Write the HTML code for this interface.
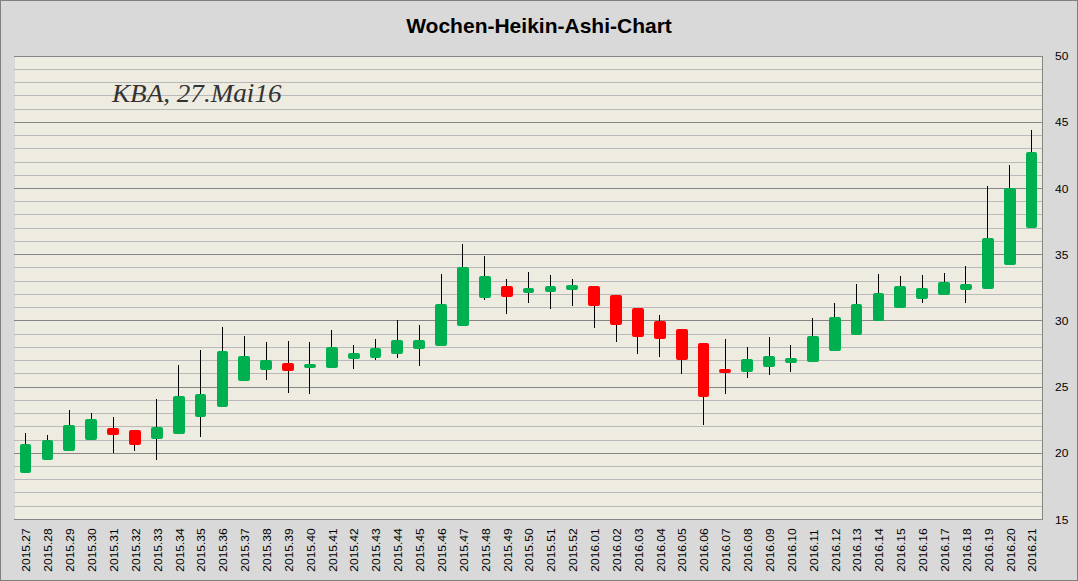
<!DOCTYPE html>
<html><head><meta charset="utf-8"><style>
html,body{margin:0;padding:0;}
body{width:1078px;height:581px;overflow:hidden;background:#D9D9D9;position:relative;font-family:"Liberation Sans",sans-serif;}
.frame{position:absolute;left:0;top:0;width:1076px;height:579px;border:1px solid #808080;}
svg{position:absolute;left:0;top:0;}
.title{position:absolute;left:0;width:1078px;top:14px;text-align:center;font:bold 21px "Liberation Sans",sans-serif;color:#000;line-height:24px;}
.note{position:absolute;left:112px;top:80px;font:italic 25px "Liberation Serif",serif;color:#333;transform-origin:0 0;transform:scaleX(1.085);white-space:nowrap;line-height:28px;}
.lc{display:inline-block;transform:scaleY(1.12);transform-origin:50% 22px;}
.yl{position:absolute;left:1055px;font-size:12px;line-height:14px;color:#000;transform:scaleY(0.89);transform-origin:0 11px;}
.xl{position:absolute;top:543px;width:43.4px;font-size:12px;line-height:14px;height:14px;color:#000;transform:rotate(-90deg) scaleY(0.92);transform-origin:50% 50%;white-space:nowrap;}
</style></head><body>
<div class="frame"></div>
<svg width="1078" height="581" viewBox="0 0 1078 581">
<rect x="15" y="56" width="1027" height="463" fill="#EEECE1"/>
<rect x="14" y="519" width="1028" height="1" fill="#868686"/>
<rect x="14" y="506" width="1028" height="1" fill="#B9B9B9"/>
<rect x="14" y="492" width="1028" height="1" fill="#B9B9B9"/>
<rect x="14" y="479" width="1028" height="1" fill="#B9B9B9"/>
<rect x="14" y="466" width="1028" height="1" fill="#B9B9B9"/>
<rect x="14" y="453" width="1028" height="1" fill="#868686"/>
<rect x="14" y="440" width="1028" height="1" fill="#B9B9B9"/>
<rect x="14" y="426" width="1028" height="1" fill="#B9B9B9"/>
<rect x="14" y="413" width="1028" height="1" fill="#B9B9B9"/>
<rect x="14" y="400" width="1028" height="1" fill="#B9B9B9"/>
<rect x="14" y="387" width="1028" height="1" fill="#868686"/>
<rect x="14" y="373" width="1028" height="1" fill="#B9B9B9"/>
<rect x="14" y="360" width="1028" height="1" fill="#B9B9B9"/>
<rect x="14" y="347" width="1028" height="1" fill="#B9B9B9"/>
<rect x="14" y="334" width="1028" height="1" fill="#B9B9B9"/>
<rect x="14" y="320" width="1028" height="1" fill="#868686"/>
<rect x="14" y="307" width="1028" height="1" fill="#B9B9B9"/>
<rect x="14" y="294" width="1028" height="1" fill="#B9B9B9"/>
<rect x="14" y="281" width="1028" height="1" fill="#B9B9B9"/>
<rect x="14" y="267" width="1028" height="1" fill="#B9B9B9"/>
<rect x="14" y="254" width="1028" height="1" fill="#868686"/>
<rect x="14" y="241" width="1028" height="1" fill="#B9B9B9"/>
<rect x="14" y="228" width="1028" height="1" fill="#B9B9B9"/>
<rect x="14" y="214" width="1028" height="1" fill="#B9B9B9"/>
<rect x="14" y="201" width="1028" height="1" fill="#B9B9B9"/>
<rect x="14" y="188" width="1028" height="1" fill="#868686"/>
<rect x="14" y="175" width="1028" height="1" fill="#B9B9B9"/>
<rect x="14" y="162" width="1028" height="1" fill="#B9B9B9"/>
<rect x="14" y="148" width="1028" height="1" fill="#B9B9B9"/>
<rect x="14" y="135" width="1028" height="1" fill="#B9B9B9"/>
<rect x="14" y="122" width="1028" height="1" fill="#868686"/>
<rect x="14" y="109" width="1028" height="1" fill="#B9B9B9"/>
<rect x="14" y="95" width="1028" height="1" fill="#B9B9B9"/>
<rect x="14" y="82" width="1028" height="1" fill="#B9B9B9"/>
<rect x="14" y="69" width="1028" height="1" fill="#B9B9B9"/>
<rect x="14" y="56" width="1028" height="1" fill="#868686"/>
<rect x="1042" y="56" width="1" height="464" fill="#868686"/>
<rect x="25" y="433.0" width="1" height="40.0" fill="#000"/>
<rect x="20" y="444.0" width="11" height="29.0" rx="2" fill="#00B050"/>
<rect x="47" y="435.0" width="1" height="25.0" fill="#000"/>
<rect x="42" y="440.0" width="11" height="20.0" rx="2" fill="#00B050"/>
<rect x="69" y="410.0" width="1" height="41.0" fill="#000"/>
<rect x="63" y="425.0" width="12" height="26.0" rx="2" fill="#00B050"/>
<rect x="91" y="413.0" width="1" height="27.0" fill="#000"/>
<rect x="85" y="419.0" width="12" height="21.0" rx="2" fill="#00B050"/>
<rect x="113" y="417.0" width="1" height="36.0" fill="#000"/>
<rect x="107" y="428.0" width="12" height="7.0" rx="2" fill="#FF0000"/>
<rect x="134" y="430.0" width="1" height="21.0" fill="#000"/>
<rect x="129" y="430.0" width="12" height="15.0" rx="2" fill="#FF0000"/>
<rect x="156" y="399.0" width="1" height="61.0" fill="#000"/>
<rect x="151" y="427.0" width="12" height="12.0" rx="2" fill="#00B050"/>
<rect x="178" y="365.0" width="1" height="69.0" fill="#000"/>
<rect x="173" y="396.0" width="12" height="38.0" rx="2" fill="#00B050"/>
<rect x="200" y="350.0" width="1" height="87.0" fill="#000"/>
<rect x="195" y="394.0" width="11" height="23.0" rx="2" fill="#00B050"/>
<rect x="222" y="327.0" width="1" height="80.0" fill="#000"/>
<rect x="217" y="351.0" width="11" height="56.0" rx="2" fill="#00B050"/>
<rect x="244" y="336.0" width="1" height="45.0" fill="#000"/>
<rect x="238" y="356.0" width="12" height="25.0" rx="2" fill="#00B050"/>
<rect x="266" y="342.0" width="1" height="38.0" fill="#000"/>
<rect x="260" y="360.0" width="12" height="10.0" rx="2" fill="#00B050"/>
<rect x="288" y="341.0" width="1" height="52.0" fill="#000"/>
<rect x="282" y="363.0" width="12" height="8.0" rx="2" fill="#FF0000"/>
<rect x="309" y="342.0" width="1" height="52.0" fill="#000"/>
<rect x="304" y="364.0" width="12" height="4.0" rx="2" fill="#00B050"/>
<rect x="331" y="330.0" width="1" height="38.0" fill="#000"/>
<rect x="326" y="347.0" width="12" height="21.0" rx="2" fill="#00B050"/>
<rect x="353" y="345.0" width="1" height="24.0" fill="#000"/>
<rect x="348" y="353.0" width="12" height="6.0" rx="2" fill="#00B050"/>
<rect x="375" y="339.0" width="1" height="21.0" fill="#000"/>
<rect x="370" y="348.0" width="11" height="10.0" rx="2" fill="#00B050"/>
<rect x="397" y="320.0" width="1" height="38.0" fill="#000"/>
<rect x="391" y="340.0" width="12" height="14.0" rx="2" fill="#00B050"/>
<rect x="419" y="325.0" width="1" height="41.0" fill="#000"/>
<rect x="413" y="340.0" width="12" height="9.0" rx="2" fill="#00B050"/>
<rect x="441" y="274.0" width="1" height="72.0" fill="#000"/>
<rect x="435" y="304.0" width="12" height="42.0" rx="2" fill="#00B050"/>
<rect x="462" y="244.0" width="1" height="82.0" fill="#000"/>
<rect x="457" y="267.0" width="12" height="59.0" rx="2" fill="#00B050"/>
<rect x="484" y="256.0" width="1" height="44.0" fill="#000"/>
<rect x="479" y="276.0" width="12" height="22.0" rx="2" fill="#00B050"/>
<rect x="506" y="279.0" width="1" height="35.0" fill="#000"/>
<rect x="501" y="286.0" width="12" height="11.0" rx="2" fill="#FF0000"/>
<rect x="528" y="272.0" width="1" height="31.0" fill="#000"/>
<rect x="523" y="288.0" width="11" height="5.0" rx="2" fill="#00B050"/>
<rect x="550" y="275.0" width="1" height="34.0" fill="#000"/>
<rect x="545" y="286.0" width="11" height="6.0" rx="2" fill="#00B050"/>
<rect x="572" y="279.0" width="1" height="27.0" fill="#000"/>
<rect x="566" y="285.0" width="12" height="5.0" rx="2" fill="#00B050"/>
<rect x="594" y="286.0" width="1" height="42.0" fill="#000"/>
<rect x="588" y="286.0" width="12" height="20.0" rx="2" fill="#FF0000"/>
<rect x="616" y="295.0" width="1" height="47.0" fill="#000"/>
<rect x="610" y="295.0" width="12" height="30.0" rx="2" fill="#FF0000"/>
<rect x="637" y="308.0" width="1" height="46.0" fill="#000"/>
<rect x="632" y="308.0" width="12" height="29.0" rx="2" fill="#FF0000"/>
<rect x="659" y="315.0" width="1" height="42.0" fill="#000"/>
<rect x="654" y="321.0" width="12" height="18.0" rx="2" fill="#FF0000"/>
<rect x="681" y="329.0" width="1" height="45.0" fill="#000"/>
<rect x="676" y="329.0" width="12" height="31.0" rx="2" fill="#FF0000"/>
<rect x="703" y="343.0" width="1" height="82.0" fill="#000"/>
<rect x="698" y="343.0" width="11" height="54.0" rx="2" fill="#FF0000"/>
<rect x="725" y="339.0" width="1" height="55.0" fill="#000"/>
<rect x="719" y="369.0" width="12" height="4.0" rx="2" fill="#FF0000"/>
<rect x="747" y="347.0" width="1" height="31.0" fill="#000"/>
<rect x="741" y="359.0" width="12" height="13.0" rx="2" fill="#00B050"/>
<rect x="769" y="337.0" width="1" height="38.0" fill="#000"/>
<rect x="763" y="356.0" width="12" height="11.0" rx="2" fill="#00B050"/>
<rect x="790" y="345.0" width="1" height="27.0" fill="#000"/>
<rect x="785" y="358.0" width="12" height="5.0" rx="2" fill="#00B050"/>
<rect x="812" y="318.0" width="1" height="44.0" fill="#000"/>
<rect x="807" y="336.0" width="12" height="26.0" rx="2" fill="#00B050"/>
<rect x="834" y="303.0" width="1" height="48.0" fill="#000"/>
<rect x="829" y="317.0" width="12" height="34.0" rx="2" fill="#00B050"/>
<rect x="856" y="284.0" width="1" height="51.0" fill="#000"/>
<rect x="851" y="304.0" width="11" height="31.0" rx="2" fill="#00B050"/>
<rect x="878" y="274.0" width="1" height="47.0" fill="#000"/>
<rect x="873" y="293.0" width="11" height="28.0" rx="2" fill="#00B050"/>
<rect x="900" y="276.0" width="1" height="32.0" fill="#000"/>
<rect x="894" y="286.0" width="12" height="22.0" rx="2" fill="#00B050"/>
<rect x="922" y="275.0" width="1" height="28.0" fill="#000"/>
<rect x="916" y="288.0" width="12" height="11.0" rx="2" fill="#00B050"/>
<rect x="944" y="273.0" width="1" height="22.0" fill="#000"/>
<rect x="938" y="282.0" width="12" height="13.0" rx="2" fill="#00B050"/>
<rect x="965" y="266.0" width="1" height="37.0" fill="#000"/>
<rect x="960" y="284.0" width="12" height="6.0" rx="2" fill="#00B050"/>
<rect x="987" y="186.0" width="1" height="103.0" fill="#000"/>
<rect x="982" y="238.0" width="12" height="51.0" rx="2" fill="#00B050"/>
<rect x="1009" y="165.0" width="1" height="100.0" fill="#000"/>
<rect x="1004" y="188.0" width="12" height="77.0" rx="2" fill="#00B050"/>
<rect x="1031" y="130.0" width="1" height="98.0" fill="#000"/>
<rect x="1026" y="152.0" width="11" height="76.0" rx="2" fill="#00B050"/>
</svg>
<div class="title">Wochen-Heikin-Ashi-Chart</div>
<div class="note">KBA, 27.M<span class="lc">ai</span>16</div>
<div class="yl" style="top:513px">15</div><div class="yl" style="top:446px">20</div><div class="yl" style="top:380px">25</div><div class="yl" style="top:314px">30</div><div class="yl" style="top:248px">35</div><div class="yl" style="top:182px">40</div><div class="yl" style="top:115px">45</div><div class="yl" style="top:49px">50</div>
<div class="xl" style="left:4.90px">2015.27</div><div class="xl" style="left:26.90px">2015.28</div><div class="xl" style="left:48.90px">2015.29</div><div class="xl" style="left:70.90px">2015.30</div><div class="xl" style="left:92.90px">2015.31</div><div class="xl" style="left:114.90px">2015.32</div><div class="xl" style="left:136.90px">2015.33</div><div class="xl" style="left:158.90px">2015.34</div><div class="xl" style="left:179.90px">2015.35</div><div class="xl" style="left:201.90px">2015.36</div><div class="xl" style="left:223.90px">2015.37</div><div class="xl" style="left:245.90px">2015.38</div><div class="xl" style="left:267.90px">2015.39</div><div class="xl" style="left:289.90px">2015.40</div><div class="xl" style="left:311.90px">2015.41</div><div class="xl" style="left:332.90px">2015.42</div><div class="xl" style="left:354.90px">2015.43</div><div class="xl" style="left:376.90px">2015.44</div><div class="xl" style="left:398.90px">2015.45</div><div class="xl" style="left:420.90px">2015.46</div><div class="xl" style="left:442.90px">2015.47</div><div class="xl" style="left:464.90px">2015.48</div><div class="xl" style="left:486.90px">2015.49</div><div class="xl" style="left:507.90px">2015.50</div><div class="xl" style="left:529.90px">2015.51</div><div class="xl" style="left:551.90px">2015.52</div><div class="xl" style="left:573.90px">2016.01</div><div class="xl" style="left:595.90px">2016.02</div><div class="xl" style="left:617.90px">2016.03</div><div class="xl" style="left:639.90px">2016.04</div><div class="xl" style="left:660.90px">2016.05</div><div class="xl" style="left:682.90px">2016.06</div><div class="xl" style="left:704.90px">2016.07</div><div class="xl" style="left:726.90px">2016.08</div><div class="xl" style="left:748.90px">2016.09</div><div class="xl" style="left:770.90px">2016.10</div><div class="xl" style="left:792.90px">2016.11</div><div class="xl" style="left:814.90px">2016.12</div><div class="xl" style="left:835.90px">2016.13</div><div class="xl" style="left:857.90px">2016.14</div><div class="xl" style="left:879.90px">2016.15</div><div class="xl" style="left:901.90px">2016.16</div><div class="xl" style="left:923.90px">2016.17</div><div class="xl" style="left:945.90px">2016.18</div><div class="xl" style="left:967.90px">2016.19</div><div class="xl" style="left:989.90px">2016.20</div><div class="xl" style="left:1010.90px">2016.21</div>
</body></html>
